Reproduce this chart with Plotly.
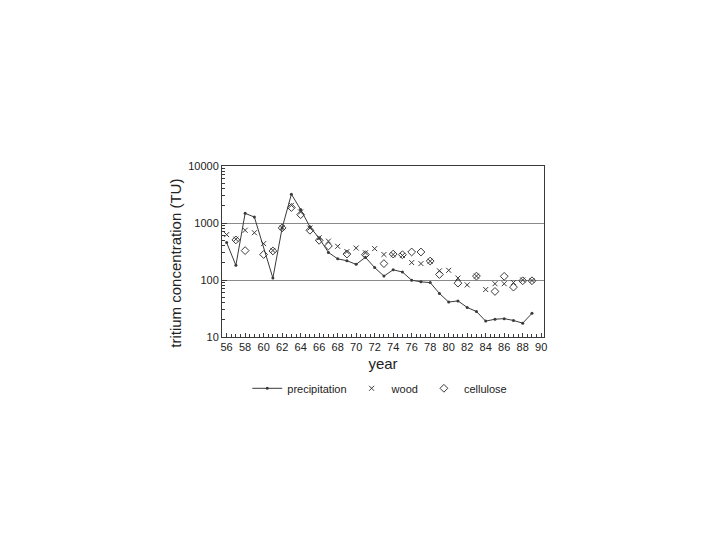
import plotly.graph_objects as go

years = list(range(56, 90))

precipitation = [453, 181, 1480, 1270, None, 108, 817, 3200, 1720, 860,
                 540, 305, 235, 218, 188, 250, 165, 117, 151, 138,
                 99, 93, 90, 58, 41, 43, 33, 28, 19, 20.5,
                 21, 19.5, 17.5, 26]

wood = [625, 520, 745, 675, 435, 330, 830, 2040, 1560, 815,
        550, 480, 390, 315, 364, 300, 355, 280, 280, 270,
        202, 194, 213, 145, 148, 108, 82, 117, 68, 86,
        86, 90, 100, 98]

cellulose = [None, 505, 328, None, 280, 323, 820, 1870, 1400, 745,
             497, 395, None, 285, None, 278, None, 194, 285, 278,
             310, 310, 215, 125, None, 88, None, 117, None, 63,
             116, 75, 97, 97]

x_tick_vals = list(range(56, 91, 2))
x_tick_text = [str(v) for v in x_tick_vals]
y_tick_vals = [10, 100, 1000, 10000]
y_tick_text = ["10", "100", "1000", "10000"]

ink = "#3a3a3a"
font_family = "Liberation Sans, Arial, sans-serif"

fig = go.Figure()
fig.add_trace(go.Scatter(
    x=years, y=precipitation, name="precipitation", mode="lines+markers",
    connectgaps=True,
    line=dict(color=ink, width=1),
    marker=dict(symbol="circle", size=3, color=ink),
))
fig.add_trace(go.Scatter(
    x=years, y=wood, name="wood", mode="markers",
    marker=dict(symbol="x-thin-open", size=5, color=ink, line=dict(width=1, color=ink)),
))
fig.add_trace(go.Scatter(
    x=years, y=cellulose, name="cellulose", mode="markers",
    marker=dict(symbol="diamond-open", size=6, color=ink, line=dict(width=1, color=ink)),
))

fig.add_annotation(
    text="tritium concentration (TU)", textangle=-90,
    xref="paper", yref="paper", x=-0.145, y=0.43,
    xanchor="center", yanchor="middle", showarrow=False,
    font=dict(size=15, color="#222"),
)

fig.update_layout(
    width=720, height=540,
    paper_bgcolor="white", plot_bgcolor="white",
    margin=dict(l=214, r=184, t=158, b=211),
    font=dict(family=font_family, color="#222", size=11),
    showlegend=True,
    legend=dict(orientation="h", x=0.49, xanchor="center", y=-0.30, yanchor="middle",
                font=dict(size=11, color="#222"), itemwidth=30,
                bgcolor="rgba(0,0,0,0)"),
    xaxis=dict(
        range=[55.5, 90.3], tickvals=x_tick_vals, ticktext=x_tick_text,
        ticks="inside", ticklen=4, tickcolor=ink, showline=True, linecolor=ink,
        linewidth=1, mirror=True, showgrid=False, zeroline=False,
        tickfont=dict(size=11, color="#222"),
        minor=dict(dtick=0.5, tick0=56, ticks="inside", ticklen=3, tickcolor=ink),
        title=dict(text="year", font=dict(size=15, color="#222"), standoff=6),
    ),
    yaxis=dict(
        type="log", range=[1, 4], tickvals=y_tick_vals, ticktext=y_tick_text,
        ticks="inside", ticklen=5, tickcolor=ink, showline=True, linecolor=ink,
        linewidth=1, mirror=True, showgrid=True, gridcolor="#8a8a8a", gridwidth=1.2,
        zeroline=False, tickfont=dict(size=11, color="#222"),
        minor=dict(dtick="D1", ticks="inside", ticklen=3, tickcolor=ink, showgrid=False),
    ),
)

fig.write_html("out.html")
